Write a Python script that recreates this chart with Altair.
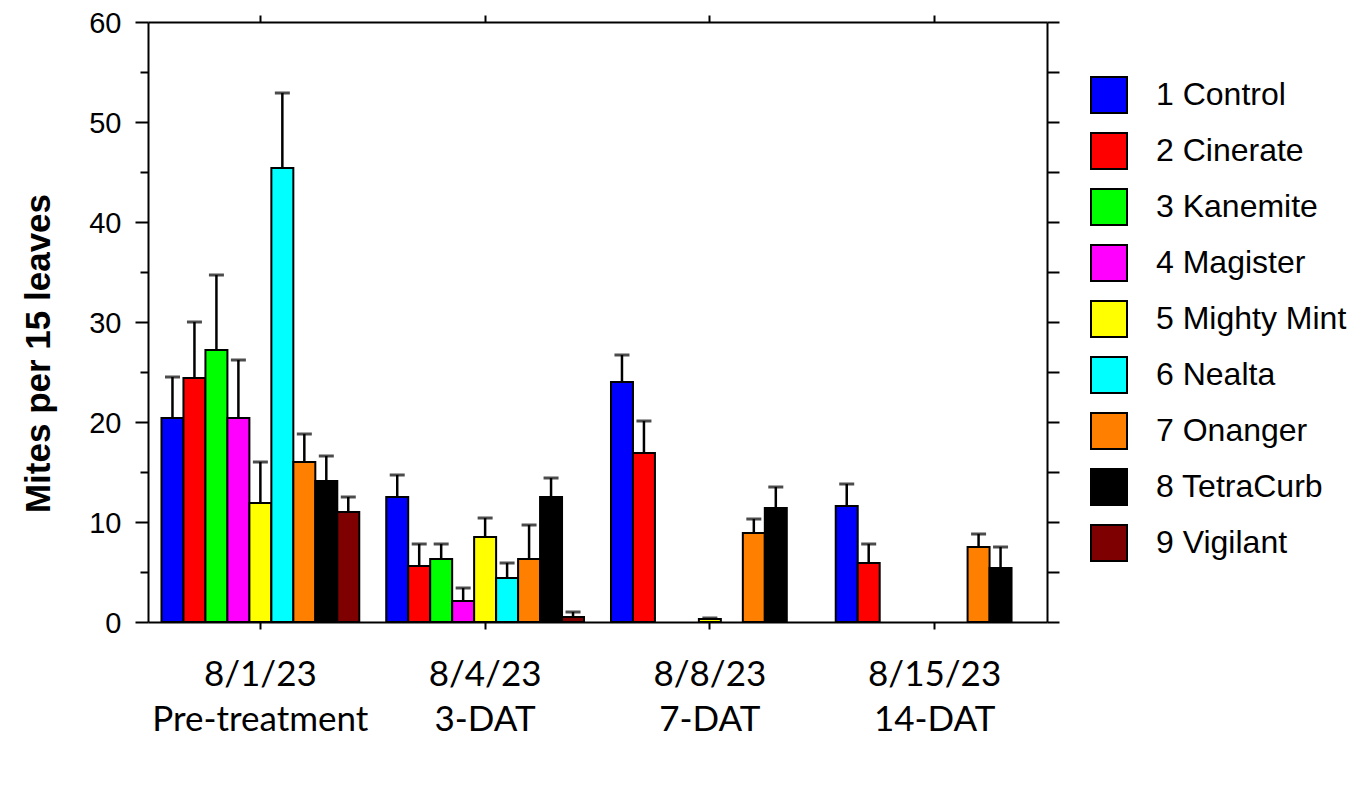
import altair as alt
import pandas as pd

treatments = ["1 Control", "2 Cinerate", "3 Kanemite", "4 Magister", "5 Mighty Mint",
              "6 Nealta", "7 Onanger", "8 TetraCurb", "9 Vigilant"]
colors = ["#0000FF", "#FF0000", "#00FF00", "#FF00FF", "#FFFF00",
          "#00FFFF", "#FF8000", "#000000", "#7F0000"]
dates = ["8/1/23", "8/4/23", "8/8/23", "8/15/23"]
phases = ["Pre-treatment", "3-DAT", "7-DAT", "14-DAT"]

mean_d1 = [20.4, 24.4, 27.2, 20.4, 11.9, 45.4, 16.0, 14.1, 11.0]
err_d1 = [4.1, 5.6, 7.5, 5.8, 4.1, 7.5, 2.8, 2.5, 1.5]
mean_d2 = [12.5, 5.6, 6.3, 2.1, 8.5, 4.4, 6.3, 12.5, 0.5]
err_d2 = [2.2, 2.2, 1.5, 1.3, 1.9, 1.5, 3.4, 1.9, 0.5]
mean_d3 = [24.0, 16.9, 0.0, 0.0, 0.3, 0.0, 8.9, 11.4, 0.0]
err_d3 = [2.7, 3.2, 0.0, 0.0, 0.1, 0.0, 1.4, 2.1, 0.0]
mean_d4 = [11.6, 5.9, 0.0, 0.0, 0.0, 0.0, 7.5, 5.4, 0.0]
err_d4 = [2.2, 1.9, 0.0, 0.0, 0.0, 0.0, 1.3, 2.1, 0.0]

y_major = [0, 10, 20, 30, 40, 50, 60]
y_minor = [5, 15, 25, 35, 45, 55]
y_right = [0, 5, 10, 15, 20, 25, 30, 35, 40, 45, 50, 55, 60]

means = [mean_d1, mean_d2, mean_d3, mean_d4]
errs = [err_d1, err_d2, err_d3, err_d4]
periods = [f"{d}|{p}" for d, p in zip(dates, phases)]

rows = []
for di, per in enumerate(periods):
    for ti, t in enumerate(treatments):
        m = means[di][ti]
        e = errs[di][ti]
        rows.append({"period": per, "treatment": t, "mean": m, "err": e, "top": m + e})
df = pd.DataFrame(rows)

xscale = alt.Scale(paddingInner=0.12, paddingOuter=0.06)
yscale = alt.Scale(domain=[0, 60], nice=False)
oscale = alt.Scale(domain=treatments, paddingInner=0, paddingOuter=0)

AX = dict(domainColor="black", domainWidth=2, tickColor="black", tickWidth=2, zindex=1)

x_bottom = alt.X("period:N", sort=periods, scale=xscale, title=None,
                 axis=alt.Axis(orient="bottom", labelExpr="split(datum.label, '|')",
                               labelAngle=0, labelFont="Lato", labelFontSize=35,
                               labelColor="black", labelPadding=28, labelLineHeight=45,
                               labelLimit=500, tickSize=7, **AX))
x_top = alt.X("period:N", sort=periods, scale=xscale, title=None,
              axis=alt.Axis(orient="top", labels=False, tickSize=7, **AX))
x_none = alt.X("period:N", sort=periods, scale=xscale, axis=None)

y_left = alt.Y("mean:Q", scale=yscale,
               axis=alt.Axis(orient="left", values=y_major, tickSize=13, labelPadding=14,
                             labelFont="Liberation Sans", labelFontSize=29, labelColor="black",
                             labelOffset=1,
                             title="Mites per 15 leaves", titleFont="Liberation Sans",
                             titleFontSize=35, titleFontWeight="bold", titleColor="black",
                             titleX=-110, titleY=331, titleBaseline="middle", **AX))
y_minor_ax = alt.Y("mean:Q", scale=yscale,
                   axis=alt.Axis(orient="left", values=y_minor, tickSize=8, labels=False,
                                 domain=False, title=None, **AX))
y_right_ax = alt.Y("mean:Q", scale=yscale,
                   axis=alt.Axis(orient="right", values=y_right, tickSize=12, labels=False,
                                 title=None, **AX))

xoff = alt.XOffset("treatment:N", scale=oscale)

base = alt.Chart(df)

bars = base.mark_bar(stroke="black", strokeWidth=2).encode(
    x=x_bottom, xOffset=xoff, y=y_left,
    color=alt.Color("treatment:N", scale=alt.Scale(domain=treatments, range=colors),
                    legend=alt.Legend(title=None, orient="none", legendX=942, legendY=54,
                                      symbolType="square", symbolSize=1296,
                                      symbolStrokeColor="black", symbolStrokeWidth=2,
                                      labelFont="Liberation Sans", labelFontSize=32,
                                      labelColor="black", labelOffset=28, rowPadding=12,
                                      labelLimit=400, padding=0, zindex=1)),
).transform_filter("datum.mean > 0")

err_rules = base.mark_rule(color="black", strokeWidth=2.5).encode(
    x=x_none, xOffset=xoff, y=alt.Y("mean:Q", scale=yscale, axis=None), y2="top:Q"
).transform_filter("datum.err > 0")

caps = base.mark_tick(color="black", thickness=3, size=15, orient="horizontal").encode(
    x=x_none, xOffset=xoff, y=alt.Y("top:Q", scale=yscale, axis=None)
).transform_filter("datum.err > 0")

frame = base.mark_bar(opacity=0).encode(x=x_top, xOffset=xoff, y=y_right_ax)
minor = base.mark_bar(opacity=0).encode(x=x_none, xOffset=xoff, y=y_minor_ax)

chart = alt.layer(err_rules, bars, caps, frame, minor).resolve_axis(
    x="independent", y="independent"
).properties(
    width=899, height=600,
    autosize=alt.AutoSizeParams(type="none"),
    padding={"left": 140, "top": 14, "right": 306, "bottom": 169},
    background="white",
).configure_view(stroke=None)

chart.save("out.html", embed_options={"renderer": "svg", "actions": False})
